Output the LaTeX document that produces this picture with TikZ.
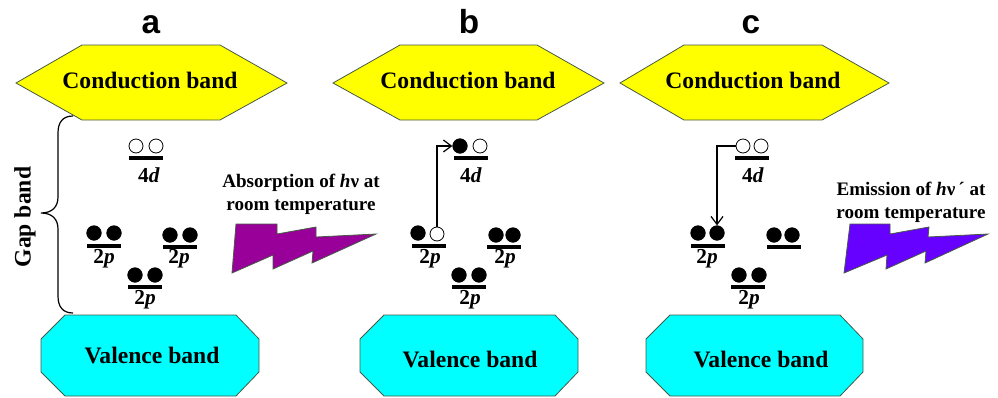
\documentclass[tikz,border=0pt]{standalone}
\usepackage{fontspec}
\setmainfont{Liberation Serif}
\newfontfamily\panelfont{Liberation Sans}
\definecolor{absorbcolor}{RGB}{153,0,153}
\definecolor{emitcolor}{RGB}{102,0,255}
\definecolor{edgecolor}{RGB}{70,90,70}
\definecolor{condcolor}{RGB}{255,255,0}
\definecolor{valcolor}{RGB}{0,255,255}
\tikzset{every picture/.style={line width=0.75pt}}
\tikzset{
	panellabel/.style={font=\panelfont\bfseries\fontsize{25}{28}\selectfont,inner sep=0pt,anchor=base},
	bandlabel/.style={font=\bfseries\fontsize{17.7}{20}\selectfont,inner sep=0pt},
	photonlabel/.style={font=\bfseries\fontsize{14.3}{17.2}\selectfont,inner sep=0pt,align=center},
	orblabel/.style={font=\bfseries\fontsize{16}{17}\selectfont,inner sep=0pt},
	filledel/.style={circle,fill=black,draw=black,line width=0.4pt,minimum size=11pt,inner sep=0pt},
	openel/.style={circle,fill=white,draw=black,line width=0.6pt,minimum size=10.5pt,inner sep=0pt},
	orbline/.style={rectangle,fill=black,minimum width=25.5pt,minimum height=3pt,inner sep=0pt},
	bandedge/.style={draw=edgecolor,line width=0.6pt},
	hop/.style={draw=black,line width=0.8pt,-{Straight Barb[length=6pt,width=9pt,line width=0.9pt]}}
}
\usetikzlibrary{arrows.meta}
\begin{document}
\begin{tikzpicture}[x=0.75pt,y=0.75pt,yscale=-1,xscale=1]
	\useasboundingbox (0,0) rectangle (998,397);

	%Shape: Hexagon a
	\draw [bandedge,fill=condcolor] (16,83) -- (82,45) -- (220,45) -- (287,83) -- (220,120) -- (82,120) -- cycle ;
	%Shape: Hexagon b
	\draw [bandedge,fill=condcolor] (333,83) -- (400,45) -- (537,45) -- (604,83) -- (537,120) -- (400,120) -- cycle ;
	%Shape: Hexagon c
	\draw [bandedge,fill=condcolor] (620,83) -- (684,45) -- (822,45) -- (889,83) -- (822,120) -- (684,120) -- cycle ;

	%Shape: Octagon a
	\draw [bandedge,fill=valcolor] (65,315) -- (236,315) -- (259,339) -- (259,372) -- (236,396) -- (65,396) -- (41,372) -- (41,339) -- cycle ;
	%Shape: Octagon b
	\draw [bandedge,fill=valcolor] (384,315) -- (555,315) -- (578,339) -- (578,372) -- (555,396) -- (384,396) -- (360,372) -- (360,339) -- cycle ;
	%Shape: Octagon c
	\draw [bandedge,fill=valcolor] (670,315) -- (840,315) -- (863,339) -- (863,372) -- (840,396) -- (670,396) -- (646,372) -- (646,339) -- cycle ;

	%Shape: Bolt a
	\draw [bandedge,fill=absorbcolor] (236,224) -- (277,224) -- (277,234) -- (316,227) -- (316,237) -- (376,234) -- (312,263) -- (313,251) -- (273,269) -- (273,255) -- (232,273) -- cycle ;
	%Shape: Bolt c
	\draw [bandedge,fill=emitcolor] (850,224) -- (890,224) -- (890,234) -- (929,227) -- (928,237) -- (988,234) -- (925,263) -- (926,251) -- (886,269) -- (887,255) -- (844,273) -- cycle ;

	%Shape: Brace
	\draw [line width=0.9pt] (73,116) .. controls (63,116) and (58,122) .. (58,133) -- (58,197) .. controls (58,207) and (52,213) .. (41,213) .. controls (52,213) and (58,219) .. (58,229) -- (58,296) .. controls (58,307) and (63,313) .. (73,313) ;

	% Text Node
	\draw (151,33) node [panellabel] (alabel) {a};
	% Text Node
	\draw (469,33) node [panellabel] (blabel) {b};
	% Text Node
	\draw (751,33) node [panellabel] (clabel) {c};
	% Text Node
	\draw (150,80) node [bandlabel] (acond) {Conduction band};
	% Text Node
	\draw (468,80) node [bandlabel] (bcond) {Conduction band};
	% Text Node
	\draw (753,80) node [bandlabel] (ccond) {Conduction band};
	% Text Node
	\draw (152,355) node [bandlabel] (aval) {Valence band};
	% Text Node
	\draw (470,359) node [bandlabel] (bval) {Valence band};
	% Text Node
	\draw (761,359) node [bandlabel] (cval) {Valence band};
	% Text Node
	\draw (25,217) node [bandlabel,rotate=90] (gap) {Gap band};
	% Text Node
	\draw (301,194) node [photonlabel] (absorb) {Absorption of \textit{h}ν at\\room temperature};
	% Text Node
	\draw (911,202) node [photonlabel] (emit) {Emission of \textit{h}ν\,´ at\\room temperature};

	% Panel a levels
	\draw (146,158) node [orbline] (a4dline) {};
	\draw (136,146) node [openel] (a4dx) {};
	\draw (156,146) node [openel] (a4dy) {};
	\draw (149,175) node [orblabel] (a4d) {4\textit{d}};
	\draw (104,246) node [orbline] (aleftline) {};
	\draw (94,233) node [filledel] (aleftx) {};
	\draw (114,233) node [filledel] (alefty) {};
	\draw (104,259) node [orblabel] (aleft) {2\textit{p}};
	\draw (180,247) node [orbline] (arightline) {};
	\draw (170,235) node [filledel] (arightx) {};
	\draw (190,235) node [filledel] (arighty) {};
	\draw (179,259) node [orblabel] (aright) {2\textit{p}};
	\draw (145,287) node [orbline] (alowline) {};
	\draw (135,275) node [filledel] (alowx) {};
	\draw (155,275) node [filledel] (alowy) {};
	\draw (145,300) node [orblabel] (alow) {2\textit{p}};

	% Panel b levels
	\draw (471,158) node [orbline] (b4dline) {};
	\draw (460,146) node [filledel] (b4dx) {};
	\draw (480,146) node [openel] (b4dy) {};
	\draw (471,175) node [orblabel] (b4d) {4\textit{d}};
	\draw (429,246) node [orbline] (bleftline) {};
	\draw (418,233) node [filledel] (bleftx) {};
	\draw (437,234) node [openel] (blefty) {};
	\draw (430,259) node [orblabel] (bleft) {2\textit{p}};
	\draw (504,247) node [orbline] (brightline) {};
	\draw (496,235) node [filledel] (brightx) {};
	\draw (513,235) node [filledel] (brighty) {};
	\draw (505,259) node [orblabel] (bright) {2\textit{p}};
	\draw (469,287) node [orbline] (blowline) {};
	\draw (459,275) node [filledel] (blowx) {};
	\draw (479,275) node [filledel] (blowy) {};
	\draw (470,300) node [orblabel] (blow) {2\textit{p}};

	% Panel c levels
	\draw (752,158) node [orbline] (c4dline) {};
	\draw (743,146) node [openel] (c4dx) {};
	\draw (761,146) node [openel] (c4dy) {};
	\draw (753,175) node [orblabel] (c4d) {4\textit{d}};
	\draw (708,246) node [orbline] (cleftline) {};
	\draw (698,233) node [filledel] (cleftx) {};
	\draw (717,233) node [filledel] (clefty) {};
	\draw (707,259) node [orblabel] (cleft) {2\textit{p}};
	\draw (784,247) node [orbline] (crightline) {};
	\draw (774,235) node [filledel] (crightx) {};
	\draw (792,235) node [filledel] (crighty) {};
	\draw (748,287) node [orbline] (clowline) {};
	\draw (739,275) node [filledel] (clowx) {};
	\draw (759,275) node [filledel] (clowy) {};
	\draw (749,300) node [orblabel] (clow) {2\textit{p}};

	%Straight Lines
	\draw [hop] (blefty.north) |- (b4dx.west) ;
	%Straight Lines
	\draw [hop] (c4dx.west) -| (clefty.north) ;
\end{tikzpicture}
\end{document}
